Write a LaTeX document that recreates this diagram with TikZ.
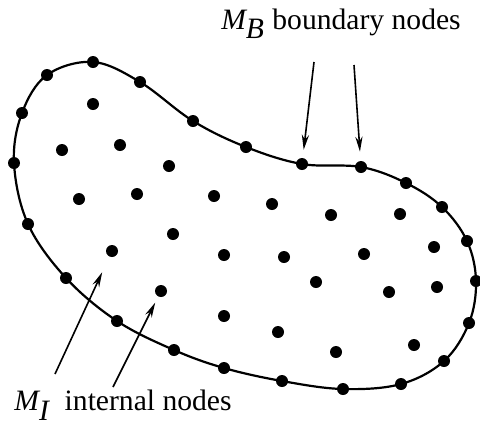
\documentclass[tikz,border=0pt]{standalone}
\usepackage{fontspec}
\setmainfont{Liberation Serif}
\usetikzlibrary{arrows.meta}

\begin{document}
\begin{tikzpicture}[x=0.5pt,y=-0.5pt,
    dot/.style={circle,fill=black,inner sep=0pt,minimum size=6pt},
    lbl/.style={font=\fontsize{14.8}{17}\selectfont,inner sep=0pt},
    pointer/.style={-{Stealth[length=7.5pt,width=3.6pt]},line width=0.8pt}]
  \useasboundingbox (0,0) rectangle (480,424);
  % domain boundary
  \draw[line width=1.1pt] plot[smooth cycle,tension=0.6] coordinates {
    (93,62) (140,82) (193,121) (246,147) (302,164) (361,167) (406,183)
    (442,207) (467,241) (476,281) (469,323) (444,361) (401,384) (343,389)
    (282,381) (224,368) (174,350) (117,321) (66,278) (28,224) (14,163)
    (22,113) (47,75)};
  % boundary nodes
  \foreach \x/\y [count=\k] in {93/62, 140/82, 193/121, 246/147, 302/164,
      361/167, 406/183, 442/207, 467/241, 476/281, 469/323, 444/361,
      401/384, 343/389, 282/381, 224/368, 174/350, 117/321, 66/278,
      28/224, 14/163, 22/113, 47/75}
    \node[dot] (b\k) at (\x,\y) {};
  % internal nodes
  \foreach \x/\y [count=\k] in {93/104, 62/150, 120/145, 169/166, 79/199,
      137/194, 214/196, 272/204, 331/215, 400/214, 173/234, 112/251,
      224/255, 284/257, 364/254, 434/247, 161/291, 224/316, 316/282,
      389/292, 437/287, 278/332, 336/352, 414/345}
    \node[dot] (i\k) at (\x,\y) {};
  % labels
  \node[lbl] (bndlbl) at (341,24) {$\textit{M}_{\textit{B}}$ boundary nodes};
  \node[lbl] (intlbl) at (123,405) {$\textit{M}_{\textit{I}}$\enspace internal nodes};
  \coordinate (ta) at (314,62);
  \coordinate (tb) at (354,65);
  \coordinate (ba) at (55,374);
  \coordinate (bb) at (113,387);
  \draw[pointer,shorten >=4pt] (ta) -- (b5);
  \draw[pointer,shorten >=4.5pt] (tb) -- (b6);
  \draw[pointer,shorten >=8.5pt] (ba) -- (i12);
  \draw[pointer,shorten >=3.3pt] (bb) -- (i17);
\end{tikzpicture}
\end{document}
